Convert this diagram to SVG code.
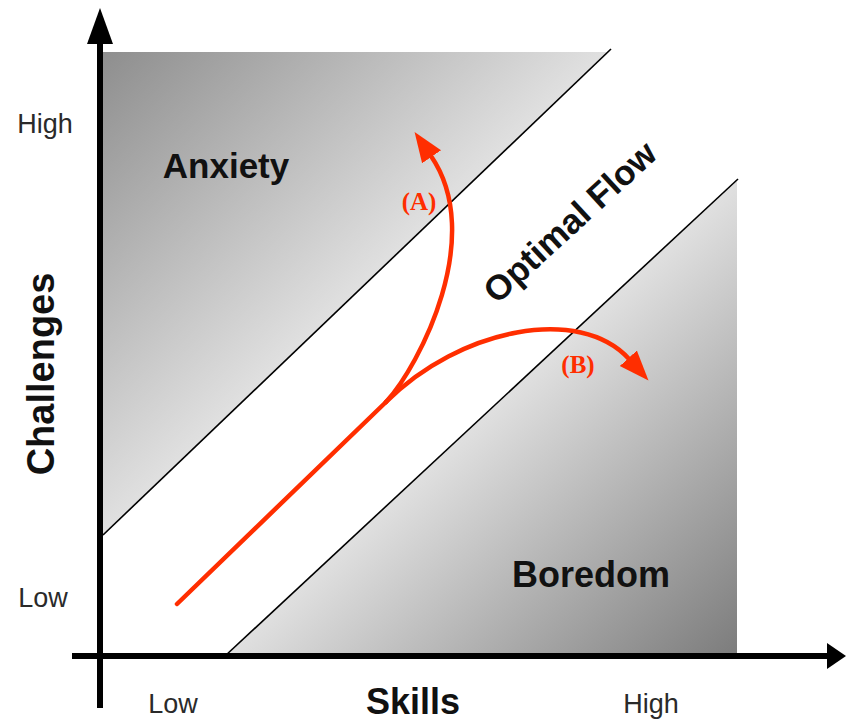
<svg xmlns="http://www.w3.org/2000/svg" width="846" height="721" viewBox="0 0 846 721">
<defs>
<linearGradient id="gAnx" gradientUnits="userSpaceOnUse" x1="103" y1="52" x2="350" y2="310">
<stop offset="0" stop-color="#8e8e8e"/>
<stop offset="1" stop-color="#e2e2e2"/>
</linearGradient>
<linearGradient id="gBor" gradientUnits="userSpaceOnUse" x1="500" y1="400" x2="737" y2="656">
<stop offset="0" stop-color="#e0e0e0"/>
<stop offset="1" stop-color="#7c7c7c"/>
</linearGradient>
<marker id="redHead" markerUnits="userSpaceOnUse" markerWidth="32" markerHeight="26" viewBox="0 -13 32 26" refX="1" refY="0" orient="auto">
<path d="M0,-11.5 L30,0 L0,11.5 z" fill="#ff2e00"/>
</marker>
</defs>
<style>
.axis{stroke:#000;stroke-width:6;fill:none}
.diag{stroke:#000;stroke-width:1.6;fill:none}
.red{stroke:#ff2e00;stroke-width:4.5;fill:none;stroke-linecap:round}
.tick{font-family:"Liberation Sans",Arial,sans-serif;font-size:27px;fill:#2a2a2a}
.big{font-family:"Liberation Sans",Arial,sans-serif;font-weight:bold;fill:#111}
.lab{font-family:"Liberation Serif","Times New Roman",serif;font-weight:bold;font-size:25px;fill:#ff2e00}
</style>
<rect width="846" height="721" fill="#fff"/>
<g id="anxiety">
<polygon points="103,52 609,52 103,536" fill="url(#gAnx)"/>
<text class="big" x="226" y="178" font-size="35" text-anchor="middle">Anxiety</text>
</g>
<g id="boredom">
<polygon points="225,656 737,181 737,656" fill="url(#gBor)"/>
<text class="big" x="591" y="587" font-size="36" text-anchor="middle">Boredom</text>
</g>
<g id="optimal-flow">
<text class="big" font-size="35" text-anchor="middle" transform="translate(570,222) rotate(-42.5)" x="0" y="12">Optimal Flow</text>
</g>
<g id="connectors">
<line class="diag" x1="103" y1="535" x2="611" y2="49"/>
<line class="diag" x1="225" y1="656" x2="738" y2="179"/>
<line class="red" x1="177" y1="604" x2="386" y2="402"/>
<path class="red" d="M386,402 C420,365 486,236 431,156" marker-end="url(#redHead)"/>
<path class="red" d="M386,402 C460,328 580,305 629,359" marker-end="url(#redHead)"/>
</g>
<g id="label-a"><text class="lab" x="419" y="210" text-anchor="middle">(A)</text></g>
<g id="label-b"><text class="lab" x="578" y="373" text-anchor="middle">(B)</text></g>
<g id="axes">
<line class="axis" x1="100" y1="40" x2="100" y2="708"/>
<polygon points="100,8 87,44 113,44" fill="#000"/>
<line class="axis" x1="72" y1="656" x2="830" y2="656"/>
<polygon points="846,656 827,643 827,669" fill="#000"/>
</g>
<g id="axis-labels">
<text class="tick" x="45" y="133" text-anchor="middle">High</text>
<text class="tick" x="43" y="607" text-anchor="middle">Low</text>
<text class="tick" x="173" y="713" text-anchor="middle">Low</text>
<text class="tick" x="651" y="713" text-anchor="middle">High</text>
<text class="big" x="413" y="714" font-size="36" text-anchor="middle">Skills</text>
<text class="big" font-size="38" text-anchor="middle" transform="translate(54,374) rotate(-90)">Challenges</text>
</g>
</svg>
